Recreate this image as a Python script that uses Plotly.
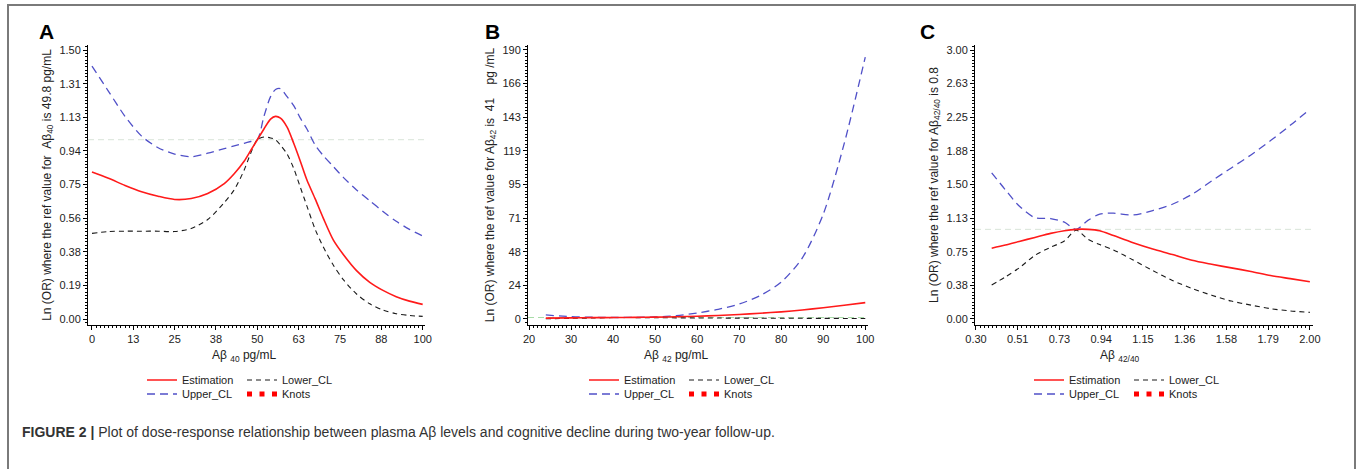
import numpy as np
import plotly.graph_objects as go

# ---------------- data ----------------
# Panel A: Abeta40 (pg/mL)
A_x = [0, 5, 10, 15, 20, 25, 30, 35, 40, 43, 46, 48, 50, 52, 54, 55.5, 57, 59, 61, 63, 65, 67.5, 70, 73, 76, 80, 84, 88, 92, 96, 100]
A_est = [0.82, 0.785, 0.745, 0.71, 0.685, 0.667, 0.672, 0.70, 0.755, 0.81, 0.88, 0.94, 1.00, 1.06, 1.115, 1.13, 1.12, 1.07, 0.98, 0.88,
         0.775, 0.67, 0.56, 0.44, 0.36, 0.27, 0.205, 0.16, 0.125, 0.10, 0.082]
A_upper = [1.41, 1.27, 1.13, 1.02, 0.955, 0.92, 0.905, 0.925, 0.95, 0.965, 0.98, 0.99, 1.00, 1.13, 1.24, 1.28, 1.285, 1.24, 1.19, 1.12,
           1.06, 0.97, 0.91, 0.85, 0.79, 0.72, 0.66, 0.60, 0.545, 0.50, 0.463]
A_lower = [0.478, 0.488, 0.49, 0.49, 0.49, 0.488, 0.505, 0.555, 0.65, 0.72, 0.83, 0.925, 1.00, 1.015, 1.01, 1.00, 0.97, 0.92, 0.84, 0.735,
           0.63, 0.50, 0.40, 0.30, 0.22, 0.14, 0.085, 0.05, 0.03, 0.02, 0.015]
A_ref = 1.0
A_xticks = [0, 12.5, 25, 37.5, 50, 62.5, 75, 87.5, 100]
A_xlabels = ["0", "13", "25", "38", "50", "63", "75", "88", "100"]
A_yticks = [0, 0.1875, 0.375, 0.5625, 0.75, 0.9375, 1.125, 1.3125, 1.5]
A_ylabels = ["0.00", "0.19", "0.38", "0.56", "0.75", "0.94", "1.13", "1.31", "1.50"]

# Panel B: Abeta42 (pg/mL)
B_x = [24, 30, 35, 41, 45, 50, 55, 60, 65, 70, 75, 80, 85, 90, 95, 100]
B_est = [0.55, 0.75, 0.88, 1.0, 1.1, 1.25, 1.5, 1.9, 2.4, 3.1, 4.0, 5.0, 6.3, 7.9, 9.7, 11.5]
B_upper = [2.8, 1.6, 1.2, 1.0, 1.1, 1.4, 2.3, 4.2, 6.8, 10.5, 16.5, 26, 43, 74, 124, 185]
B_lower = [0.15, 0.4, 0.65, 1.0, 0.95, 0.85, 0.75, 0.68, 0.6, 0.55, 0.5, 0.46, 0.42, 0.38, 0.34, 0.3]
B_ref = 1.0
B_xticks = [20, 30, 40, 50, 60, 70, 80, 90, 100]
B_xlabels = ["20", "30", "40", "50", "60", "70", "80", "90", "100"]
B_yticks = [0, 23.75, 47.5, 71.25, 95, 118.75, 142.5, 166.25, 190]
B_ylabels = ["0", "24", "48", "71", "95", "119", "143", "166", "190"]

# Panel C: Abeta42/40 ratio
C_x = [0.38, 0.45, 0.52, 0.60, 0.68, 0.75, 0.81, 0.87, 0.93, 1.0, 1.1, 1.2, 1.3, 1.4, 1.5, 1.6, 1.7, 1.8, 1.9, 2.0]
C_est = [0.79, 0.825, 0.865, 0.91, 0.955, 0.985, 1.0, 1.0, 0.985, 0.93, 0.85, 0.78, 0.72, 0.655, 0.61, 0.57, 0.53, 0.485, 0.45, 0.416]
C_upper = [1.63, 1.44, 1.26, 1.13, 1.12, 1.08, 1.0, 1.10, 1.17, 1.18, 1.16, 1.21, 1.28, 1.39, 1.54, 1.685, 1.83, 1.99, 2.16, 2.34]
C_lower = [0.379, 0.47, 0.57, 0.71, 0.80, 0.87, 0.99, 0.89, 0.83, 0.77, 0.658, 0.54, 0.43, 0.34, 0.265, 0.20, 0.155, 0.115, 0.09, 0.074]
C_ref = 1.0
C_xticks = [0.3, 0.5125, 0.725, 0.9375, 1.15, 1.3625, 1.575, 1.7875, 2.0]
C_xlabels = ["0.30", "0.51", "0.73", "0.94", "1.15", "1.36", "1.58", "1.79", "2.00"]
C_yticks = [0, 0.375, 0.75, 1.125, 1.5, 1.875, 2.25, 2.625, 3.0]
C_ylabels = ["0.00", "0.38", "0.75", "1.13", "1.50", "1.88", "2.25", "2.63", "3.00"]

# Knots (not drawn inside the panels, legend only)
knots_x = [None]
knots_y = [None]

series_names = ["Estimation", "Lower_CL", "Upper_CL", "Knots"]

# ---------------- styling ----------------
W, H = 1357, 469
FONT = "Liberation Sans, Arial, sans-serif"
RED = "#ff1a1a"
BLUE = "#5050c8"
BLACK = "#1a1a1a"


def px_x(p):
    return p / W


def px_y(p):
    return 1 - p / H


panels = [
    dict(x=A_x, est=A_est, up=A_upper, lo=A_lower, ref=A_ref, refcolor="#d8e4d8",
         xdom=(88, 425), xr=[-1.2, 100.7], yr=[-0.033, 1.528],
         xt=A_xticks, xl=A_xlabels, yt=A_yticks, yl=A_ylabels,
         xminor=1.25, yminor=0.01875,
         ytitle="Ln (OR) where the ref value for \u00a0Aβ<sub>40</sub> is 49.8 pg/mL",
         xtitle="Aβ <sub>40</sub> pg/mL", xtitle_x=244, letter="A", letter_x=37, leg_x=142),
    dict(x=B_x, est=B_est, up=B_upper, lo=B_lower, ref=B_ref, refcolor="#a8dca8",
         xdom=(528, 868), xr=[19.76, 100.65], yr=[-4.3, 193.5],
         xt=B_xticks, xl=B_xlabels, yt=B_yticks, yl=B_ylabels,
         xminor=1.0, yminor=2.375,
         ytitle="Ln (OR) where the ref value for Aβ<sub>42</sub> is \u00a041\u00a0\u00a0\u00a0 pg /mL",
         xtitle="Aβ <sub>42</sub> pg/mL", xtitle_x=676, letter="B", letter_x=483, leg_x=584),
    dict(x=C_x, est=C_est, up=C_upper, lo=C_lower, ref=C_ref, refcolor="#d8e4d8",
         xdom=(975, 1313), xr=[0.295, 2.016], yr=[-0.067, 3.056],
         xt=C_xticks, xl=C_xlabels, yt=C_yticks, yl=C_ylabels,
         xminor=0.02125, yminor=0.0375,
         ytitle="Ln (OR) where the ref value for Aβ<sub>42/40</sub> is 0.8",
         xtitle="Aβ <sub>42/40</sub>", xtitle_x=1120, letter="C", letter_x=918, leg_x=1029),
]

fig = go.Figure()
layout = dict(
    width=W, height=H, margin=dict(l=0, r=0, t=0, b=0, autoexpand=False),
    paper_bgcolor="white", plot_bgcolor="white",
    font=dict(family=FONT, size=11, color="#222222"),
    annotations=[], shapes=[],
)

for i, p in enumerate(panels):
    n = i + 1
    xa = "x" if n == 1 else f"x{n}"
    ya = "y" if n == 1 else f"y{n}"
    leg1 = "legend" if n == 1 else f"legend{2 * n - 1}"
    leg2 = f"legend{2 * n}"

    # reference line
    fig.add_trace(go.Scatter(x=[p["xr"][0], p["xr"][1]], y=[p["ref"], p["ref"]], mode="lines",
                             line=dict(color=p["refcolor"], width=1, dash="6px,4px"),
                             xaxis=xa, yaxis=ya, showlegend=False, hoverinfo="skip"))
    fig.add_trace(go.Scatter(x=p["x"], y=p["up"], mode="lines", name=series_names[2],
                             line=dict(color=BLUE, width=1.3, dash="8px,5px", shape="spline", smoothing=0.8),
                             xaxis=xa, yaxis=ya, legend=leg2, legendrank=1))
    fig.add_trace(go.Scatter(x=p["x"], y=p["lo"], mode="lines", name=series_names[1],
                             line=dict(color=BLACK, width=1.1, dash="5px,4px", shape="spline", smoothing=0.8),
                             xaxis=xa, yaxis=ya, legend=leg1, legendrank=2))
    fig.add_trace(go.Scatter(x=p["x"], y=p["est"], mode="lines", name=series_names[0],
                             line=dict(color=RED, width=1.6, shape="spline", smoothing=0.8),
                             xaxis=xa, yaxis=ya, legend=leg1, legendrank=1))
    fig.add_trace(go.Scatter(x=knots_x, y=knots_y, mode="lines", name=series_names[3],
                             line=dict(color="#ff0000", width=5, dash="5px,7.5px"),
                             xaxis=xa, yaxis=ya, legend=leg2, legendrank=2))

    axis_common = dict(showline=True, linecolor="black", linewidth=1, showgrid=False, zeroline=False,
                       ticks="outside", ticklen=4, tickcolor="black", tickwidth=1,
                       tickfont=dict(size=11, color="#222222"), tickmode="array")
    layout["xaxis" if n == 1 else f"xaxis{n}"] = dict(
        axis_common, domain=[px_x(p["xdom"][0]), px_x(p["xdom"][1])], anchor=ya,
        range=p["xr"], tickvals=p["xt"], ticktext=p["xl"],
        minor=dict(ticks="outside", ticklen=2, tickcolor="black", tickmode="linear",
                   tick0=p["xt"][0], dtick=p["xminor"]))
    layout["yaxis" if n == 1 else f"yaxis{n}"] = dict(
        axis_common, domain=[px_y(325), px_y(45)], anchor=xa,
        range=p["yr"], tickvals=p["yt"], ticktext=p["yl"],
        minor=dict(ticks="outside", ticklen=2, tickcolor="black", tickmode="linear",
                   tick0=0, dtick=p["yminor"]),
        title=dict(text=p["ytitle"], font=dict(size=12, color="#222222"), standoff=5))

    layout["annotations"].append(dict(
        text=p["xtitle"], x=px_x(p["xtitle_x"]), y=px_y(356), xref="paper", yref="paper",
        xanchor="center", yanchor="middle", showarrow=False, font=dict(size=12, color="#222222")))
    layout["annotations"].append(dict(
        text=f"<b>{p['letter']}</b>", x=px_x(p["letter_x"]), y=px_y(32), xref="paper", yref="paper",
        xanchor="left", yanchor="middle", showarrow=False, font=dict(size=21, color="black")))

    for key, ypix in ((leg1, 380), (leg2, 394)):
        layout[key] = dict(orientation="h", x=px_x(p["leg_x"]), y=px_y(ypix), xanchor="left", yanchor="middle",
                           xref="paper", yref="paper", entrywidth=55, entrywidthmode="pixels",
                           bgcolor="rgba(0,0,0,0)", font=dict(size=11, color="#222222"),
                           traceorder="normal", itemwidth=30, tracegroupgap=0)

layout["annotations"].append(dict(
    text="<b>FIGURE 2 |</b> Plot of dose-response relationship between plasma Aβ levels and cognitive decline during two-year follow-up.",
    x=px_x(20), y=px_y(432), xref="paper", yref="paper", xanchor="left", yanchor="middle",
    showarrow=False, font=dict(size=14, color="#333333")))

layout["shapes"].append(dict(type="rect", xref="paper", yref="paper",
                             x0=px_x(8), x1=px_x(1355), y0=px_y(490), y1=px_y(5),
                             line=dict(color="#7a7a7a", width=2), fillcolor="rgba(0,0,0,0)", layer="below"))

fig.update_layout(**layout)
fig.write_html("out.html", config={"displayModeBar": False},
               post_script="document.body.style.margin='0';")
